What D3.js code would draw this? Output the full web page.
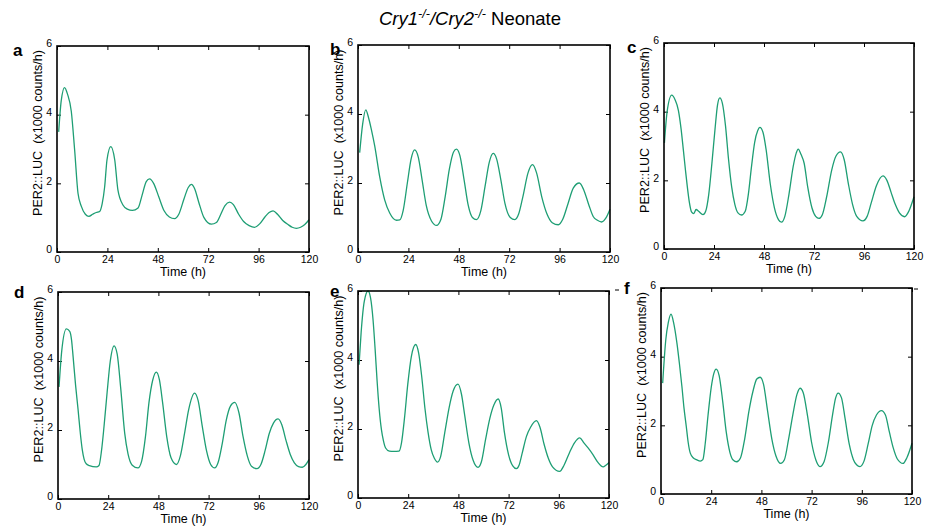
<!DOCTYPE html>
<html>
<head>
<meta charset="utf-8">
<script src="https://cdn.jsdelivr.net/npm/d3@7"></script>
<style>
  body { margin: 0; background: #fff; }
  svg { display: block; font-family: "Liberation Sans", Arial, sans-serif; }
</style>
</head>
<body>
<div id="chart"></div>
<script>
// PER2::LUC traces, [time (h), counts x1000/h]
const traceA = [[0.8,3.5],[2,4.4],[3.6,4.79],[5,4.6],[6.8,4.1],[8.4,2.97],[10,1.71],[11.6,1.33],[13.5,1.1],[15.2,1.04],
  [17,1.1],[18.7,1.15],[20.3,1.18],[21.5,1.4],[22.7,1.9],[23.8,2.68],[25.6,3.07],[27.5,2.68],[29,1.81],[31.4,1.37],
  [33.5,1.25],[35.9,1.21],[38.6,1.28],[40.5,1.65],[42.5,2.05],[44.1,2.13],[46,2.0],[48.5,1.6],[51,1.2],[53.5,1.02],
  [56,0.97],[58,1.1],[60.5,1.55],[62.5,1.88],[64,1.97],[65.5,1.85],[67.5,1.45],[70,1.0],[73.5,0.81],[75.9,0.86],
  [78,1.1],[80,1.35],[82.2,1.45],[84,1.38],[86.5,1.1],[89,0.88],[91.5,0.77],[94.1,0.72],[96.5,0.82],[99,1.02],
  [101,1.15],[102.9,1.2],[105,1.1],[107.5,0.92],[110,0.8],[112,0.72],[114,0.69],[116,0.72],[118,0.8],[120,0.94]];

const traceB = [[0.8,2.88],[2.2,3.7],[3.7,4.12],[5,3.9],[6.4,3.54],[8,3.06],[10.3,2.19],[12.7,1.51],[15.1,1.13],[18.3,0.92],
  [19.9,0.93],[21.5,1.2],[23.5,2.0],[25.3,2.7],[27,2.96],[28.7,2.75],[30.5,2.1],[32.5,1.35],[35,0.9],[37.4,0.77],
  [39.5,0.95],[41.5,1.6],[43.5,2.4],[45.5,2.9],[46.9,2.98],[48.5,2.8],[50.5,2.1],[52.5,1.35],[54.5,1.0],[56.4,0.94],
  [58.5,1.2],[60.5,1.9],[62.5,2.6],[64.4,2.86],[66,2.7],[68,2.1],[70,1.4],[72.5,1.0],[74.7,0.94],[76.5,1.1],
  [78.5,1.6],[81,2.3],[83.1,2.53],[85,2.3],[87.5,1.6],[90,1.1],[92.5,0.85],[95.4,0.79],[97.5,0.95],[100,1.4],
  [102.5,1.85],[105.4,2.0],[107.5,1.8],[110,1.35],[112,1.03],[114,0.92],[116,0.87],[118,0.98],[120,1.24]];

const traceC = [[0.2,3.09],[1.5,4.0],[3.7,4.48],[5.3,4.35],[6.9,4.04],[8.2,3.5],[9.3,2.88],[10.3,2.3],[11.2,1.81],[12.2,1.35],
  [13.2,1.08],[14.3,1.03],[15.4,1.15],[16.6,1.1],[18.7,1.0],[20,1.1],[21.5,1.6],[23,2.5],[24.5,3.5],[25.7,4.2],
  [26.8,4.4],[28,4.25],[29.5,3.6],[31,2.6],[32.5,1.8],[34,1.3],[35.5,1.05],[37.2,0.99],[39,1.1],[40.5,1.6],
  [42,2.4],[43.5,3.1],[45,3.45],[46,3.54],[47.5,3.4],[49,2.9],[51,1.9],[53,1.2],[55,0.85],[56.4,0.78],
  [58,0.95],[60,1.6],[62,2.4],[63.5,2.8],[64.4,2.91],[65.8,2.75],[67.3,2.49],[69,1.8],[71,1.2],[72.8,0.95],
  [74.4,0.89],[76,1.0],[78,1.5],[80.5,2.3],[82.5,2.7],[84.7,2.83],[86.5,2.6],[88.5,1.9],[90.5,1.3],[92.5,0.95],
  [95.5,0.82],[97.5,0.95],[99.5,1.35],[102,1.85],[105.1,2.13],[107,2.0],[109,1.65],[111,1.3],[113,1.05],[115.5,0.94],
  [117.5,1.1],[120,1.52]];

const traceD = [[0.5,3.25],[1.8,4.3],[4,4.93],[5.6,4.86],[6.5,4.6],[7.2,4.14],[8.4,3.3],[9.6,2.59],[10.6,1.95],[11.6,1.43],
  [12.5,1.15],[13.5,1.02],[15,0.97],[18.3,0.93],[19.6,0.97],[20.8,1.4],[22,2.1],[23.5,3.1],[25,4.0],[26.8,4.44],
  [28.3,4.2],[30,3.2],[31.9,1.9],[33.5,1.3],[35.5,0.98],[38.2,0.9],[40,1.1],[41.8,1.8],[43.5,2.8],[45.3,3.45],
  [47,3.68],[48.5,3.45],[50,2.8],[52,1.8],[54,1.2],[56.6,1.0],[58.5,1.25],[60.5,1.9],[62.5,2.6],[65.3,3.07],
  [67,2.85],[69,2.1],[71,1.4],[73,1.0],[74.9,0.9],[76.5,1.05],[78.5,1.6],[80.5,2.3],[82.5,2.7],[84.5,2.8],
  [86.5,2.5],[88.5,1.8],[90.5,1.25],[92.5,0.95],[95.1,0.88],[97,1.0],[99,1.4],[101,1.9],[103,2.2],[105.2,2.32],
  [107,2.15],[109,1.7],[111,1.3],[113,1.05],[115,0.94],[116.8,0.92],[118.5,1.0],[120,1.14]];

const traceE = [[0.5,3.86],[1.5,4.8],[3,5.7],[4.8,6.0],[6,5.8],[7.2,5.16],[8.2,4.3],[9.1,3.42],[10.1,2.6],[11.2,1.98],
  [12.2,1.65],[13.2,1.45],[15,1.36],[17,1.35],[19.6,1.36],[20.8,1.6],[22.2,2.3],[23.8,3.3],[25.5,4.1],[27.6,4.45],
  [29,4.2],[30.5,3.5],[32,2.6],[33.5,1.9],[35,1.4],[36.5,1.15],[38,1.04],[39.5,1.2],[41.5,1.9],[43.5,2.6],
  [45.5,3.1],[47.8,3.3],[49.5,3.0],[51,2.4],[53,1.6],[55,1.1],[57.4,0.89],[59,1.05],[61,1.7],[63,2.3],
  [65,2.7],[67,2.87],[68.5,2.6],[70,1.9],[72,1.25],[74,0.93],[75.7,0.85],[77,0.95],[78.5,1.3],[80.5,1.78],
  [82.5,2.05],[85.3,2.24],[87,2.05],[89,1.55],[91,1.15],[93,0.9],[96.4,0.77],[98.5,0.95],[101,1.3],[103.5,1.6],
  [106,1.74],[108,1.6],[110,1.45],[112.4,1.25],[114.5,1.05],[117.2,0.9],[118.5,0.95],[120,1.03]];

const traceF = [[0.8,3.23],[2.3,4.5],[3.5,5.0],[4.8,5.24],[6,5.0],[7.6,4.4],[8.8,3.8],[10,3.13],[11,2.5],[12.1,1.96],
  [13,1.5],[14,1.19],[15.5,1.05],[17,1.0],[18.8,0.96],[20,1.0],[21.2,1.5],[22.5,2.3],[24,3.1],[25.2,3.5],
  [26.4,3.64],[27.8,3.45],[29.5,2.7],[31.2,1.8],[33,1.2],[34.5,0.99],[36.2,0.94],[38,1.05],[40,1.6],[42,2.4],
  [44,3.0],[45.8,3.35],[47.4,3.4],[49,3.2],[51,2.4],[53,1.6],[55,1.1],[57.2,0.89],[59,1.0],[61,1.6],
  [63,2.3],[65,2.9],[66.5,3.08],[68,2.95],[70,2.3],[72,1.5],[74,1.0],[76,0.8],[78,0.95],[80,1.5],
  [82,2.3],[83.5,2.8],[84.7,2.94],[86.3,2.8],[88,2.2],[90,1.45],[92,1.0],[93.5,0.85],[95.1,0.8],[97,0.95],
  [99,1.45],[101,2.0],[103,2.3],[105.4,2.43],[107.3,2.3],[109.2,1.8],[111,1.35],[113,1.02],[115.7,0.89],[117.5,1.05],
  [120,1.48]];

const panelLetters = ["a", "b", "c", "d", "e", "f"];
const xTicks = [0, 24, 48, 72, 96, 120];
const yTicks = [0, 2, 4, 6];

// plot boxes in page pixels
const boxes = [
  {x0: 57,  y0: 46,  x1: 309, y1: 252},
  {x0: 358, y0: 45,  x1: 610, y1: 252},
  {x0: 664, y0: 43,  x1: 914, y1: 249},
  {x0: 58,  y0: 292, x1: 309, y1: 499},
  {x0: 358, y0: 291, x1: 609, y1: 498},
  {x0: 661, y0: 288, x1: 912, y1: 494}
];
const traces = [traceA, traceB, traceC, traceD, traceE, traceF];
const lineColor = "#1e9e74";

const svg = d3.select("#chart").append("svg")
    .attr("width", 925)
    .attr("height", 531);

// figure title
let title = svg.append("text")
    .attr("x", 470).attr("y", 25)
    .attr("text-anchor", "middle")
    .style("font-size", "18.5px");
title.append("tspan").attr("font-style", "italic").text("Cry1");
title.append("tspan").attr("font-style", "italic").attr("font-size", "12.5px").attr("dy", -7).text("-/-");
title.append("tspan").attr("font-style", "italic").attr("dy", 7).text("/Cry2");
title.append("tspan").attr("font-style", "italic").attr("font-size", "12.5px").attr("dy", -7).text("-/-");
title.append("tspan").attr("dy", 7).text(" Neonate");

boxes.forEach((b, i) => {
    let w = b.x1 - b.x0, h = b.y1 - b.y0;
    let g = svg.append("g").attr("transform", "translate(" + b.x0 + "," + b.y0 + ")");

    let x = d3.scaleLinear().domain([0, 120]).range([0, w]);
    let y = d3.scaleLinear().domain([0, 6]).range([h, 0]);

    // axes: ticks point inward on all four sides
    g.append("g").attr("transform", "translate(0," + h + ")")
        .call(d3.axisBottom(x).tickValues(xTicks).tickFormat(d3.format("d"))
            .tickSizeInner(-4).tickSizeOuter(0).tickPadding(4));
    let left = g.append("g")
        .call(d3.axisLeft(y).tickValues(yTicks).tickFormat(d3.format("d"))
            .tickSizeInner(-4).tickSizeOuter(0).tickPadding(5));
    g.append("g")
        .call(d3.axisTop(x).tickValues(xTicks).tickSizeInner(-4).tickSizeOuter(0).tickFormat(""));
    g.append("g").attr("transform", "translate(" + w + ",0)")
        .call(d3.axisRight(y).tickValues(yTicks).tickSizeInner(-4).tickSizeOuter(0).tickFormat(""));

    g.selectAll(".domain").remove();
    g.selectAll(".tick line").attr("stroke", "#000").attr("stroke-width", 1);
    g.selectAll(".tick text").style("font-size", "10.5px").attr("fill", "#000")
        .style("font-family", "'Liberation Sans', Arial, sans-serif");
    left.selectAll(".tick text").attr("dy", "0.08em");

    // the trace
    let line = d3.line()
        .x(d => x(d[0]))
        .y(d => y(d[1]))
        .curve(d3.curveMonotoneX);
    g.append("path")
        .datum(traces[i])
        .attr("fill", "none")
        .attr("stroke", lineColor)
        .attr("stroke-width", 1.3)
        .attr("d", line);

    // frame
    g.append("rect")
        .attr("width", w).attr("height", h)
        .attr("fill", "none")
        .attr("stroke", "#000")
        .attr("stroke-width", 1.6);

    // axis titles
    g.append("text")
        .attr("x", w / 2).attr("y", h + 24)
        .attr("text-anchor", "middle")
        .style("font-size", "12.5px")
        .text("Time (h)");
    g.append("text")
        .attr("transform", "translate(-15," + (h / 2 - 16) + ") rotate(-90)")
        .attr("text-anchor", "middle")
        .style("font-size", "12.6px")
        .style("white-space", "pre")
        .text("PER2::LUC  (x1000 counts/h)");

    // panel letter
    g.append("text")
        .attr("x", i % 3 === 0 ? -44 : (i % 3 === 1 ? -28 : -37))
        .attr("y", i < 3 ? 10 : 6)
        .style("font-size", "17px")
        .style("font-weight", "bold")
        .text(panelLetters[i]);
});

// stray marks at the top of the lower row
[[615, 619, 290], [914, 918, 289]].forEach(m => {
    svg.append("line")
        .attr("x1", m[0]).attr("x2", m[1]).attr("y1", m[2]).attr("y2", m[2])
        .attr("stroke", "#000").attr("stroke-width", 1);
});
</script>
</body>
</html>
